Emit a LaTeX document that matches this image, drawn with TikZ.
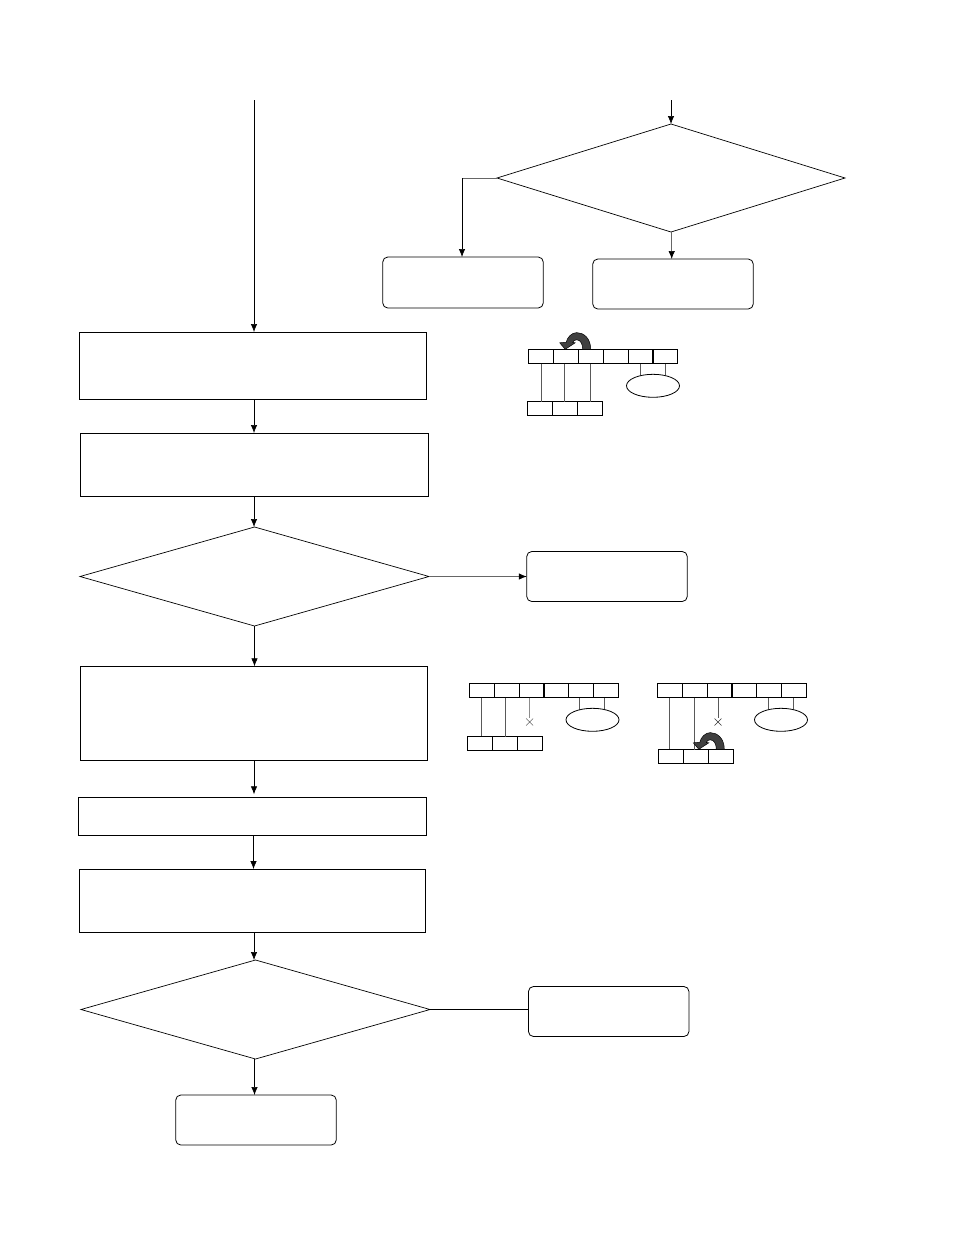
\documentclass[tikz,border=0pt]{standalone}
\usetikzlibrary{shapes.geometric,arrows.meta,backgrounds}
\tikzset{
  x=1pt,y=-1pt,
  line/.style={line width=0.7pt,draw=black},
  soft/.style={line width=0.7pt,draw=black!60},
  arr/.style={line width=0.7pt,draw=black,-{Latex[length=8pt,width=6.5pt]}},
  softarr/.style={line width=0.7pt,draw=black!60,-{Latex[length=8pt,width=6.5pt,color=black]}},
  pbox/.style={draw=black,line width=0.8pt,rectangle,inner sep=0,outer sep=0},
  rbox/.style={pbox,rounded corners=5pt,minimum width=160.5pt,minimum height=50pt},
  dec/.style={draw=black,line width=0.7pt,diamond,inner sep=0,outer sep=0},
  cell/.style={draw=black,line width=0.8pt,rectangle,inner sep=0,outer sep=0,minimum width=25pt,minimum height=14pt},
  oval/.style={draw=black,fill=white,line width=0.8pt,ellipse,inner sep=0,outer sep=0,minimum width=53pt,minimum height=23pt},
  wire/.style={line width=1pt,draw=black!65},
  cross/.style={line width=0.4pt,draw=black!80},
  curl/.style={draw=black,line width=0.5pt,fill=black!75},
}
\newcommand{\cellrow}[4]{% prefix, x of first centre, y, count
  \foreach \i in {1,...,#4}{
    \node[cell] (#1\i) at ({#2+24.85*(\i-1)},#3) {};
  }
}
\newcommand{\curlarrow}[2]{% base point at lower right
  \draw[curl,shift={(#1,#2)}] (0,0)
    .. controls (0,-11) and (-7,-16.7) .. (-14,-16.7)
    .. controls (-19,-16.7) and (-23.5,-12) .. (-24.5,-7)
    -- (-31,-6.5) -- (-25.5,0) -- (-15.5,-6.5) -- (-18,-6.8)
    .. controls (-17.5,-8.5) and (-16,-9.5) .. (-14,-9.5)
    .. controls (-10,-9.5) and (-8,-5) .. (-8,0) -- cycle;
}
\begin{document}
\begin{tikzpicture}
\useasboundingbox (0,0) rectangle (954,1235);
% main column
\node[pbox,minimum width=347pt,minimum height=67pt] (r1) at (252.5,365.5) {};
\node[pbox,minimum width=348pt,minimum height=63pt] (r2) at (254,464.5) {};
\node[dec,minimum width=349pt,minimum height=99pt,aspect=3.525] (d1) at (254.5,576.5) {};
\node[pbox,minimum width=347pt,minimum height=94pt] (r3) at (253.5,713.3) {};
\node[pbox,minimum width=348pt,minimum height=37.5pt] (r4) at (252.5,816.3) {};
\node[pbox,minimum width=346pt,minimum height=63pt] (r5) at (252.5,900.5) {};
\node[dec,minimum width=349pt,minimum height=99pt,aspect=3.525] (d2) at (255.5,1009.5) {};
\node[rbox] (e1) at (256,1120) {};
\node[rbox] (e2) at (607,576.5) {};
\node[rbox] (e3) at (608.7,1011.5) {};
% top right
\node[dec,minimum width=348pt,minimum height=108pt,aspect=3.222] (d0) at (671,178) {};
\node[rbox,minimum height=51pt] (e4) at (463,282.5) {};
\node[rbox] (e5) at (673,284) {};
\coordinate (s1) at (254,100);
\coordinate (s0) at (671,100);
% connectors
\draw[arr] (s1) -- (s1 |- r1.north);
\draw[arr] (r2.north |- r1.south) -- (r2.north);
\draw[arr] (r2.south) -- (r2.south |- d1.north);
\draw[arr] (d1.south) -- (d1.south |- r3.north);
\draw[arr] (r3.south -| r4.north) ++(1.5,0) -- ++(0,34);
\draw[arr] (r5.north |- r4.south) ++(1,0) -- ++(0,34);
\draw[arr] (r5.south) ++(1.5,0) -- ++(0,28);
\draw[arr] (d2.south) ++(-1,0) -- ++(0,36);
\draw[softarr] (d1.east) -- (d1.east -| e2.west);
\draw[line] (d2.east) -- (d2.east -| e3.west);
\draw[arr] (s0) -- (d0.north);
\draw[soft] (d0.west) -- ++(-35,0) coordinate (k0);
\draw[arr] (k0) -- (k0 |- e4.north);
\draw[softarr] (d0.south) ++(0.7,0) -- ++(0,27);
% small diagram A
\cellrow{a}{541}{356.5}{6}
\cellrow{b}{540}{408.5}{3}
\node[oval] (ao) at (653,385.8) {};
\draw[wire] (a1.south) ++(0.7,0) -- ++(0,38);
\draw[wire] (a2.south) ++(-1,0) -- ++(0,38);
\draw[wire] (a3.south) ++(-0.7,0) -- ++(0,38);
\begin{scope}[on background layer]
\draw[wire] (a5.south) -- (a5.south |- ao.center);
\draw[wire] (a6.south) -- (a6.south |- ao.center);
\end{scope}
\curlarrow{590.7}{349.3}
% small diagram B
\cellrow{c}{481.8}{690.5}{6}
\cellrow{f}{479.8}{743.3}{3}
\node[oval] (co) at (592.5,719.8) {};
\draw[wire] (c1.south) -- (c1.south |- f1.north);
\draw[wire] (c2.south) ++(-1.5,0) -- ++(0,39);
\draw[wire,draw=black!45] (c3.south) ++(-1.9,0) -- ++(0,20) coordinate (cx);
\draw[cross] (cx) ++(-3.5,1) -- ++(7,7) ++(0,-7) -- ++(-7,7);
\begin{scope}[on background layer]
\draw[wire] (c5.south) ++(-1.5,0) -- ++(0,22);
\draw[wire] (c6.south) ++(-1.3,0) -- ++(0,22);
\end{scope}
% small diagram C
\cellrow{g}{669.8}{690.5}{6}
\cellrow{h}{670.8}{756.3}{3}
\node[oval] (go) at (781,719.8) {};
\draw[wire] (g1.south) -- (g1.south |- h1.north);
\draw[wire] (g2.south) ++(-0.5,0) -- ++(0,52);
\draw[wire] (g3.south) ++(-1.5,0) -- ++(0,20) coordinate (gx);
\draw[cross] (gx) ++(-3.5,1) -- ++(7,7) ++(0,-7) -- ++(-7,7);
\begin{scope}[on background layer]
\draw[wire] (g5.south) ++(-0.9,0) -- ++(0,22);
\draw[wire] (g6.south) ++(-0.7,0) -- ++(0,22);
\end{scope}
\curlarrow{724.3}{749.3}
\end{tikzpicture}
\end{document}
